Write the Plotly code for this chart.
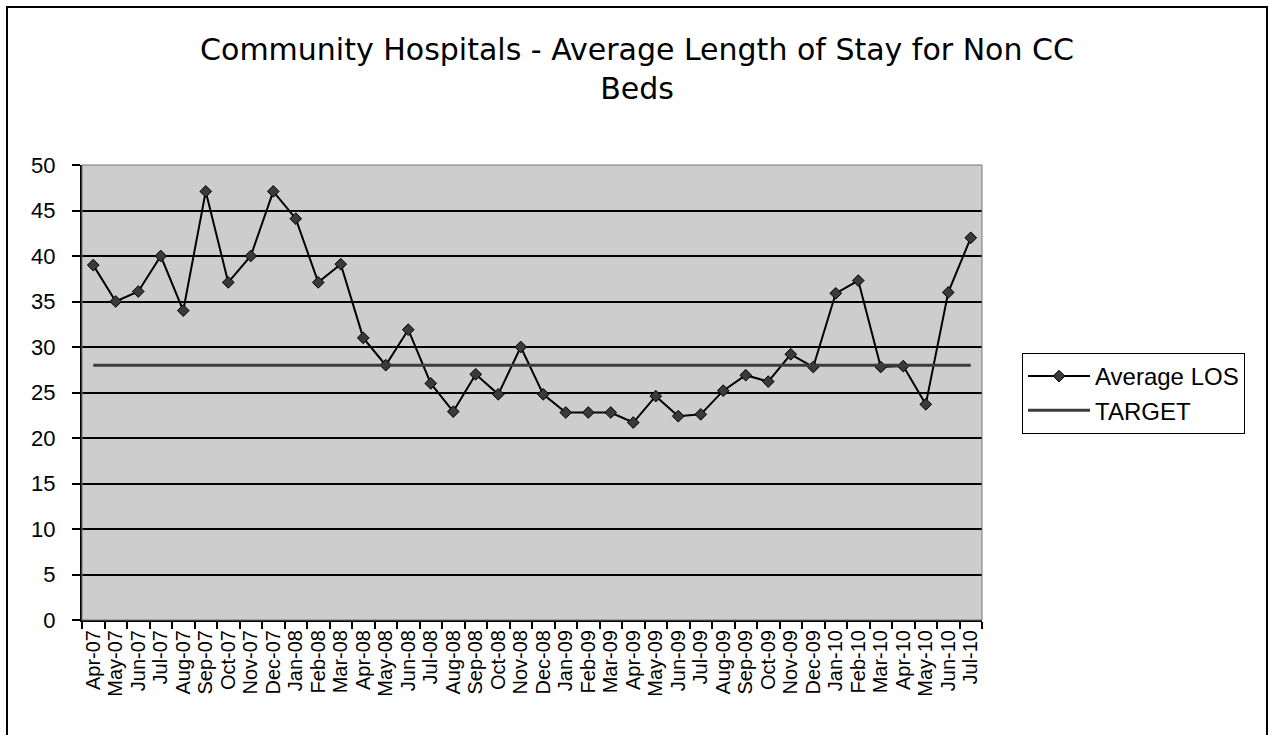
import plotly.graph_objects as go

months = ["Apr-07", "May-07", "Jun-07", "Jul-07", "Aug-07", "Sep-07", "Oct-07", "Nov-07",
          "Dec-07", "Jan-08", "Feb-08", "Mar-08", "Apr-08", "May-08", "Jun-08", "Jul-08",
          "Aug-08", "Sep-08", "Oct-08", "Nov-08", "Dec-08", "Jan-09", "Feb-09", "Mar-09",
          "Apr-09", "May-09", "Jun-09", "Jul-09", "Aug-09", "Sep-09", "Oct-09", "Nov-09",
          "Dec-09", "Jan-10", "Feb-10", "Mar-10", "Apr-10", "May-10", "Jun-10", "Jul-10"]

average_los = [39.0, 35.0, 36.1, 40.0, 34.0, 47.1, 37.1, 40.0,
               47.1, 44.1, 37.1, 39.1, 31.0, 28.0, 31.9, 26.0,
               22.9, 27.0, 24.8, 30.0, 24.8, 22.8, 22.8, 22.8,
               21.7, 24.6, 22.4, 22.6, 25.2, 26.9, 26.2, 29.2,
               27.8, 35.9, 37.3, 27.8, 27.9, 23.7, 36.0, 42.0]

target_value = 28
target = [target_value] * len(months)

y_ticks = [0, 5, 10, 15, 20, 25, 30, 35, 40, 45, 50]

W, H = 1274, 735
ML, MR, MT, MB = 82, 292, 165, 115
PW, PH = W - ML - MR, H - MT - MB


def px_x(x):
    return (x - ML) / PW


def px_y(y):
    return (H - MB - y) / PH


fig = go.Figure()
fig.add_trace(go.Scatter(
    x=months, y=average_los, name="Average LOS", mode="lines+markers",
    line=dict(color="#000000", width=2),
    marker=dict(symbol="diamond", size=9, color="#3a3a3a",
                line=dict(color="#000000", width=1)),
))
fig.add_trace(go.Scatter(
    x=months, y=target, name="TARGET", mode="lines",
    line=dict(color="#3c3c3c", width=3),
))

fig.update_layout(
    width=W, height=H,
    margin=dict(l=ML, r=MR, t=MT, b=MB),
    paper_bgcolor="#ffffff",
    plot_bgcolor="#cdcdcd",
    font=dict(family="Liberation Sans, Arial, sans-serif", color="#000000", size=22),
    title=dict(
        text="Community Hospitals - Average Length of Stay for Non CC<br>Beds",
        font=dict(family="DejaVu Sans, sans-serif", size=30, color="#000000"),
        x=0.5, xref="container", xanchor="center",
        y=1 - 60 / H, yref="container", yanchor="middle",
    ),
    showlegend=True,
    legend=dict(
        x=px_x(1022), y=px_y(353), xanchor="left", yanchor="top",
        bgcolor="#ffffff", bordercolor="#000000", borderwidth=1,
        font=dict(family="Liberation Sans, Arial, sans-serif", size=24, color="#000000"),
        itemwidth=62, tracegroupgap=0,
    ),
    xaxis=dict(
        type="category", categoryorder="array", categoryarray=months,
        range=[-0.5, len(months) - 0.5],
        tickmode="linear", tick0=0, dtick=1,
        showgrid=False, showline=True, linecolor="#000000", linewidth=2,
        ticks="outside", tickson="boundaries", ticklen=7, tickwidth=2, tickcolor="#000000",
        tickangle=-90, tickfont=dict(size=20),
    ),
    yaxis=dict(
        range=[0, 50], tickmode="array", tickvals=y_ticks,
        showgrid=True, gridcolor="#000000", gridwidth=2,
        zeroline=False, showline=True, linecolor="#000000", linewidth=2,
        ticks="outside", ticklen=8, tickwidth=2, tickcolor="#000000",
        ticklabelstandoff=12,
        tickfont=dict(size=22),
    ),
    shapes=[
        dict(type="rect", xref="x domain", yref="y domain", x0=0, x1=1, y0=0, y1=1,
             line=dict(color="#777777", width=1), fillcolor="rgba(0,0,0,0)", layer="above"),
        dict(type="rect", xref="paper", yref="paper",
             x0=px_x(7), x1=px_x(1267), y0=px_y(760), y1=px_y(7),
             line=dict(color="#000000", width=2), fillcolor="rgba(0,0,0,0)"),
    ],
)

fig.write_html("out.html")
